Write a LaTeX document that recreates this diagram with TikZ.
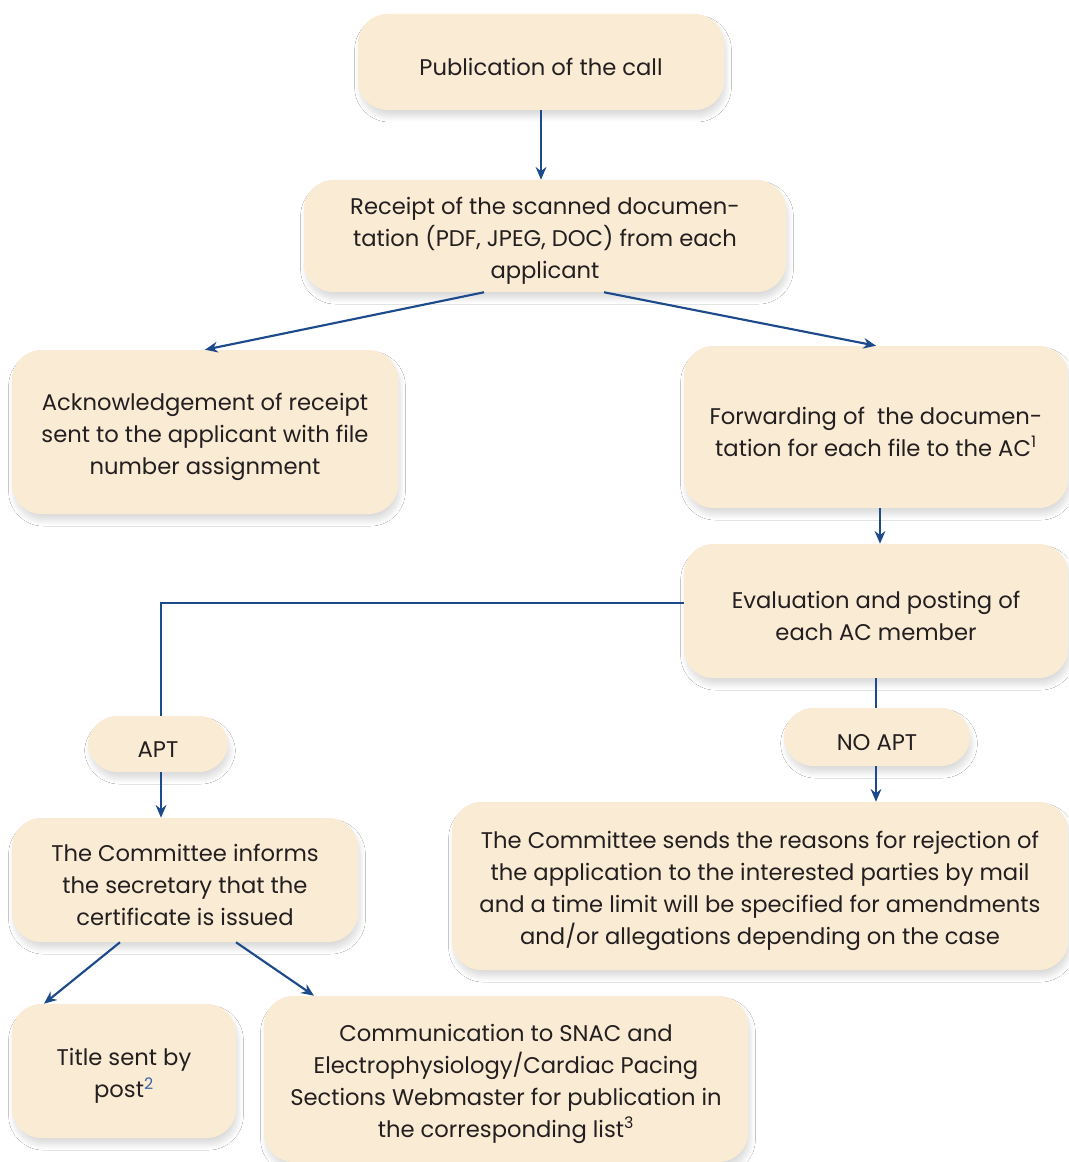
\documentclass[tikz,border=0pt]{standalone}
\usepackage{fontspec}
\setmainfont{Poppins}
\usetikzlibrary{positioning, arrows.meta, calc, shadows.blur}
\definecolor{clrbox}{HTML}{FAEBD4}
\definecolor{clrarrow}{HTML}{1D4A8A}
\definecolor{clrtext}{HTML}{231F20}
\definecolor{clrnote}{HTML}{3A64A8}

\begin{document}
\begin{tikzpicture}[
    x=0.75pt, y=-0.75pt,
    >={Stealth[length=9.5pt, width=8pt]},
    every node/.style={font=\fontsize{17}{24}\selectfont, text=clrtext},
    stepbox/.style={fill=clrbox, rounded corners=22pt, align=center, inner sep=0pt,
                    execute at begin node={\rule{0pt}{20pt}},
                    blur shadow={shadow xshift=1.5pt, shadow yshift=-5pt, shadow blur radius=4pt, shadow opacity=14, shadow blur steps=12}},
    rows2/.style={text height=44pt},
    rows3/.style={text height=68pt},
    rows4/.style={text height=92pt},
    sz/.style 2 args={minimum width=#1*0.75pt, minimum height=#2*0.75pt},
    arrow/.style={->, color=clrarrow, line width=1.6pt},
    link/.style={color=clrarrow, line width=1.6pt},
]
\useasboundingbox (0,0) rectangle (1068,1162);
\fill[white] (0,0) rectangle (1068,1162);

\node[stepbox, sz={366}{96}] (pub) at (541,62) {Publication of the call};
\node[stepbox, rows3, sz={482}{112}] (receipt) at (545,236) {Receipt of the scanned documen-\\tation (PDF, JPEG, DOC) from each\\applicant};
\node[stepbox, rows3, sz={386}{164}] (ack) at (205,432) {Acknowledgement of receipt\\sent to the applicant with file\\number assignment};
\node[stepbox, rows2, sz={384}{162}] (fwd) at (876,427) {Forwarding of \ the documen-\\tation for each file to the AC\textsuperscript{1}};
\node[stepbox, rows2, sz={384}{134}] (eval) at (876,611) {Evaluation and posting of\\each AC member};
\node[stepbox, sz={140}{56}] (apt) at (158,744) {APT};
\node[stepbox, sz={186}{58}] (noapt) at (877,737) {NO APT};
\node[stepbox, rows3, sz={346}{124}] (informs) at (185,880) {The Committee informs\\the secretary that the\\certificate is issued};
\node[stepbox, rows4, sz={616}{168}] (sends) at (760,886) {The Committee sends the reasons for rejection of\\the application to the interested parties by mail\\and a time limit will be specified for amendments\\and/or allegations depending on the case};
\node[stepbox, rows2, sz={224}{134}] (title) at (124,1071) {Title sent by\\post\textsuperscript{\color{clrnote}2}};
\node[stepbox, rows4, sz={484}{166}] (comm) at (506,1079) {Communication to SNAC and\\Electrophysiology/Cardiac Pacing\\Sections Webmaster for publication in\\the corresponding list\textsuperscript{3}};

\draw[arrow] (pub.south) -- (pub.south |- receipt.north);
\draw[arrow] ([xshift=-45.75pt]receipt.south) -- (ack.north);
\draw[arrow] ([xshift=44.25pt]receipt.south) -- (fwd.north);
\draw[arrow] ([xshift=3pt]fwd.south) -- ([xshift=3pt]fwd.south |- eval.north);
% APT branch
\draw[link] ([yshift=6pt]eval.west) -| ([xshift=2.25pt]apt.north);
\draw[arrow] ([xshift=2.25pt]apt.south) -- ([xshift=2.25pt]apt.south |- informs.north);
% NO APT branch
\draw[link] (eval.south) -- (eval.south |- noapt.north);
\draw[arrow] (eval.south |- noapt.south) -- (eval.south |- sends.north);
\draw[arrow] ([xshift=-48.75pt]informs.south) -- ([xshift=-60pt]title.north);
\draw[arrow] ([xshift=38.25pt]informs.south) -- ([xshift=-144pt]comm.north);
\end{tikzpicture}
\end{document}
